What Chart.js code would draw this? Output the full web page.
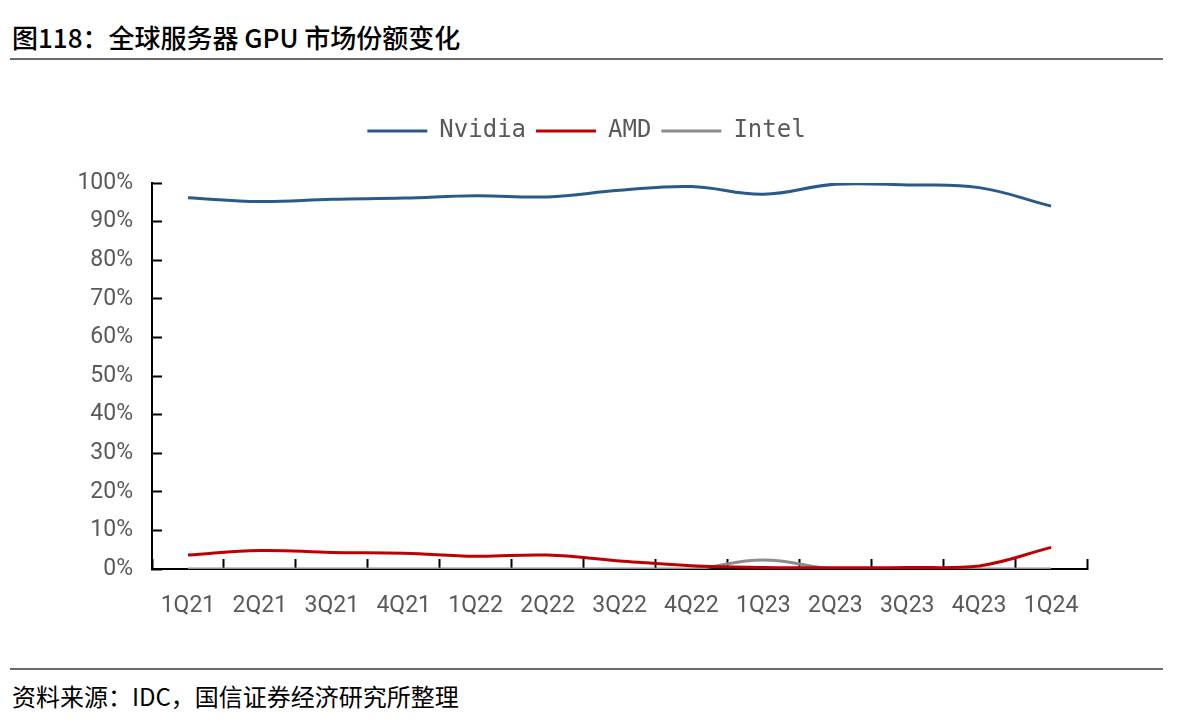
<!DOCTYPE html>
<html>
<head>
<meta charset="utf-8">
<script src="https://cdn.jsdelivr.net/npm/chart.js@4.4.1/dist/chart.umd.min.js"></script>
<style>
    body { margin: 0; background: #fff; width: 1186px; height: 726px; overflow: hidden; position: relative; }
    .title { position: absolute; left: 12px; top: 18px; font: 500 26px "Noto Sans CJK SC", sans-serif; color: #000; }
    .rule { position: absolute; left: 10px; width: 1153px; height: 0; border-top: 2px solid #6b6b6b; }
    .source { position: absolute; left: 12px; top: 678px; font: 400 24px "Noto Sans CJK SC", sans-serif; color: #000; }
    #wrap { position: absolute; left: 0; top: 0; width: 1186px; height: 650px; }
</style>
</head>
<body>
<div class="title">图118：全球服务器 GPU 市场份额变化</div>
<div class="rule" style="top:58px"></div>
<div id="wrap"><canvas id="myChart"></canvas></div>
<div class="rule" style="top:668px"></div>
<div class="source">资料来源：IDC，国信证券经济研究所整理</div>
<script>
const quarters = ['1Q21', '2Q21', '3Q21', '4Q21', '1Q22', '2Q22', '3Q22', '4Q22', '1Q23', '2Q23', '3Q23', '4Q23', '1Q24'];
const nvidia = [96.2, 95.2, 95.8, 96.1, 96.7, 96.4, 98.1, 99.1, 97.1, 99.7, 99.5, 98.8, 94.0];
const amd = [3.6, 4.8, 4.3, 4.1, 3.3, 3.6, 2.1, 0.85, 0.4, 0.3, 0.4, 0.8, 5.6];
const intel = [0, 0, 0, 0, 0, 0, 0, 0, 2.3, 0, 0, 0, 0];
const yTicks = [0, 10, 20, 30, 40, 50, 60, 70, 80, 90, 100];

const ctx = document.getElementById('myChart');

// make the legend taller so the plot starts lower, and nudge it right a bit
const legendSpace = {
    id: 'legendSpace',
    beforeInit: function (chart) {
        const fit = chart.legend.fit;
        chart.legend.fit = function () {
            fit.bind(chart.legend)();
            this.height += 30;
        };
    },
    afterLayout: function (chart) {
        chart.legend.left += 8;
        chart.legend.right += 8;
    }
};

function line(label, data, color) {
    return {
        label: label,
        data: data,
        borderColor: color,
        backgroundColor: color,
        borderWidth: 3,
        pointRadius: 0,
        tension: 0.4,
        fill: false
    };
}

new Chart(ctx, {
    type: 'line',
    data: {
        labels: quarters,
        datasets: [
            line('Nvidia', nvidia, '#2A5A8A'),
            line('AMD', amd, '#C00000'),
            line('Intel', intel, '#8C8C8C')
        ]
    },
    options: {
        responsive: true,
        maintainAspectRatio: false,
        animation: false,
        layout: {
            padding: {left: 70, right: 99, top: 109, bottom: 11}
        },
        plugins: {
            legend: {
                position: 'top',
                labels: {
                    usePointStyle: true,
                    pointStyle: 'line',
                    pointStyleWidth: 60,
                    padding: 10,
                    color: '#595959',
                    font: {family: 'DejaVu Sans Mono', size: 24}
                }
            },
            tooltip: {enabled: false}
        },
        scales: {
            x: {
                offset: true,
                grid: {
                    offset: true,
                    drawOnChartArea: false,
                    tickLength: -10,
                    tickWidth: 2,
                    tickColor: '#000'
                },
                border: {color: '#000', width: 2},
                ticks: {
                    padding: 33,
                    color: '#595959',
                    font: {family: 'Roboto', size: 23}
                },
                afterFit: function (scale) { scale.height = 70; }
            },
            y: {
                min: 0,
                max: 100,
                afterBuildTicks: function (scale) {
                    scale.ticks = yTicks.map(v => ({value: v}));
                },
                grid: {
                    drawOnChartArea: false,
                    tickLength: -10,
                    tickWidth: 2,
                    tickColor: '#000'
                },
                border: {color: '#000', width: 2},
                ticks: {
                    padding: 29,
                    color: '#595959',
                    font: {family: 'Roboto', size: 23},
                    callback: function (v) { return v + '%'; }
                },
                afterFit: function (scale) { scale.width = 82; }
            }
        }
    },
    plugins: [legendSpace]
});
</script>
</body>
</html>
